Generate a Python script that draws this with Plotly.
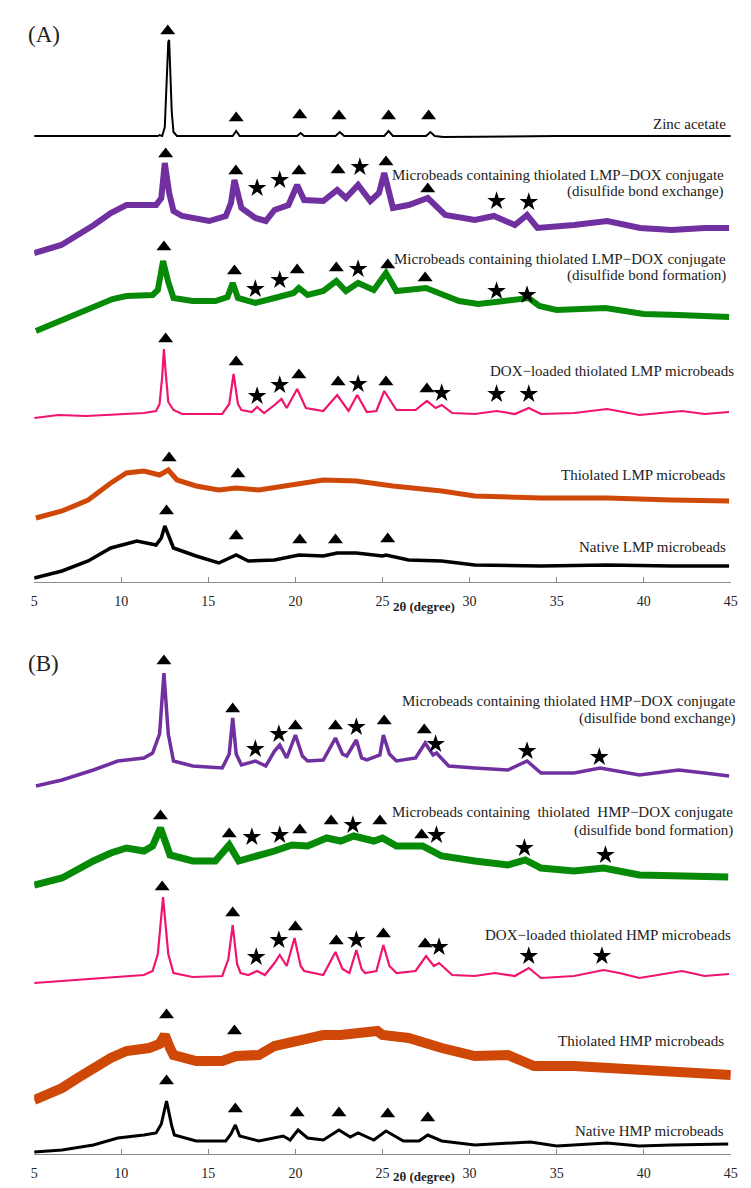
import plotly.graph_objects as go

# ---------------- Panel (A) data : 2theta (degree) vs intensity (a.u.) ----------------
zinc_x = [5.0, 12.1, 12.2, 12.35, 12.5, 12.6, 12.7, 12.75, 12.8, 12.9, 13.0, 13.2, 16.4, 16.6, 16.8,
          20.1, 20.3, 20.5, 22.3, 22.55, 22.8, 25.1, 25.35, 25.6, 27.5, 27.75, 28.0, 28.5, 35.0, 45.0]
zinc_y = [446, 446, 447, 446, 455, 500, 540, 542, 520, 470, 450, 446, 446, 451, 446,
          446, 449, 446, 446, 450, 446, 446, 451, 446, 446, 450, 446, 445, 446, 446]

lmp_exch_x = [5.0, 6.56, 8.43, 9.4, 10.3, 11.3, 12.0, 12.3, 12.5, 12.75, 13.0, 13.5, 15.05, 16.0, 16.3, 16.5,
              16.9, 17.7, 18.3, 18.8, 19.6, 20.1, 20.5, 21.6, 22.4, 22.9, 23.6, 24.3, 24.8, 25.1, 25.6,
              26.5, 27.6, 28.6, 30.3, 31.4, 32.6, 33.3, 33.9, 36.0, 37.9, 39.8, 41.6, 43.5, 44.9]
lmp_exch_y = [329, 337, 357, 369, 377, 377, 377, 384, 419, 389, 371, 366, 361, 366, 379, 402,
              374, 364, 361, 372, 377, 397, 382, 381, 392, 384, 397, 381, 389, 409, 374,
              377, 384, 367, 362, 366, 357, 367, 354, 357, 361, 354, 352, 354, 354]

lmp_form_x = [5.1, 6.5, 7.5, 8.5, 9.5, 10.3, 11.8, 12.1, 12.4, 12.7, 13.0, 14.1, 15.4, 16.1, 16.4, 16.7,
              17.7, 18.8, 19.9, 20.2, 20.7, 21.6, 22.35, 22.9, 23.6, 24.5, 25.2, 25.8, 27.5, 29.4,
              30.5, 31.5, 33.4, 34.0, 35.0, 37.8, 40.0, 42.0, 44.9]
lmp_form_y = [251, 261, 268, 276, 283, 286, 287, 292, 321, 300, 284, 281, 281, 285, 299, 284,
              279, 284, 289, 294, 287, 291, 301, 291, 299, 292, 309, 291, 294, 281,
              278, 280, 284, 276, 272, 274, 268, 267, 265]

lmp_dox_x = [5.0, 6.4, 8.0, 11.3, 12.0, 12.2, 12.35, 12.45, 12.55, 12.7, 13.0, 13.5, 15.8, 16.2, 16.45,
             16.7, 16.9, 17.5, 17.8, 18.2, 18.8, 19.2, 19.5, 20.1, 20.6, 21.6, 22.4, 23.05, 23.55,
             24.1, 24.65, 25.1, 25.8, 26.9, 27.55, 28.05, 28.4, 29.0, 30.3, 31.55, 32.6, 33.4,
             34.1, 36.0, 37.9, 39.75, 42.2, 43.5, 44.9]
lmp_dox_y = [164, 167, 166, 169, 171, 178, 205, 233, 210, 180, 172, 168, 168, 178, 208,
             178, 172, 170, 175, 169, 177, 183, 174, 193, 174, 171, 187, 171, 187,
             170, 171, 191, 172, 172, 181, 174, 177, 169, 168, 171, 168, 174,
             168, 169, 173, 167, 171, 168, 170]

lmp_thiol_x = [5.1, 6.6, 8.1, 9.4, 10.3, 11.3, 12.2, 12.7, 13.2, 14.3, 15.6, 16.6, 17.9, 19.7, 21.6,
               23.5, 25.0, 25.6, 28.4, 30.3, 34.1, 37.9, 41.6, 44.9]
lmp_thiol_y = [64, 71, 82, 99, 109, 111, 107, 112, 102, 96, 92, 94, 92, 97, 102,
               101, 97, 96, 91, 86, 84, 84, 82, 81]

lmp_native_x = [5.0, 6.6, 8.1, 9.4, 10.9, 12.0, 12.3, 12.5, 12.75, 13.0, 14.3, 15.6, 16.6, 17.3, 18.8,
                20.2, 21.6, 22.4, 23.5, 25.0, 25.2, 26.5, 28.4, 30.3, 34.1, 37.9, 41.6, 44.9]
lmp_native_y = [4, 11, 21, 34, 41, 37, 44, 56, 45, 34, 26, 19, 27, 21, 22,
                27, 26, 29, 29, 26, 27, 22, 21, 17, 16, 17, 16, 16]

# peak markers, panel A (triangles = zinc acetate reflections, stars = DOX reflections)
a_tri_x = [12.67, 16.6, 20.25, 22.5, 25.35, 27.65,
           12.55, 16.58, 20.2, 22.45, 25.2, 27.6,
           12.45, 16.5, 20.1, 22.35, 25.3, 27.45,
           12.55, 16.6, 20.2, 22.45, 25.2, 27.55,
           12.75, 16.7,
           12.6, 16.6, 20.25, 22.3, 25.3]
a_tri_y = [551, 464, 467, 466, 466, 466,
           428, 411, 411, 412, 420, 393,
           335, 311, 312, 314, 317, 304,
           243, 220, 207, 200, 200, 193,
           124, 108,
           71, 46, 42, 42, 43]
a_star_x = [17.8, 19.1, 23.7, 31.55, 33.4,
            17.7, 19.1, 23.6, 31.55, 33.3,
            17.8, 19.1, 23.6, 28.4, 31.55, 33.4]
a_star_y = [394, 402, 415, 381, 380,
            293, 302, 313, 291, 287,
            186, 197, 198, 189, 188, 188]

# ---------------- Panel (B) data ----------------
hmp_exch_x = [5.1, 6.6, 8.4, 9.8, 11.3, 11.8, 12.2, 12.45, 12.7, 13.0, 14.1, 15.8, 16.2, 16.4, 16.6, 16.9,
              17.7, 18.3, 18.8, 19.1, 19.5, 20.0, 20.4, 20.7, 21.6, 22.3, 22.7, 22.95, 23.5, 23.8,
              24.1, 24.85, 25.05, 25.4, 25.8, 26.9, 27.45, 27.9, 28.1, 28.8, 30.3, 32.2, 33.3,
              34.1, 36.0, 37.5, 39.75, 42.0, 43.5, 44.9]
hmp_exch_y = [368, 374, 384, 393, 396, 401, 420, 481, 420, 393, 388, 386, 400, 436, 400, 389,
              393, 388, 403, 409, 396, 419, 398, 393, 394, 416, 400, 398, 414, 396,
              394, 399, 419, 400, 393, 396, 411, 399, 401, 388, 386, 384, 393,
              381, 381, 386, 379, 384, 381, 378]

hmp_form_x = [5.0, 6.6, 8.4, 9.4, 10.3, 11.3, 11.8, 12.25, 12.8, 14.1, 15.4, 16.2, 16.75, 17.9, 18.8,
              19.8, 20.7, 21.8, 22.6, 23.35, 24.5, 25.0, 25.8, 27.3, 28.4, 30.3, 32.2, 33.2, 34.1,
              36.0, 37.7, 39.75, 41.6, 43.5, 44.85]
hmp_form_y = [269, 276, 293, 301, 306, 303, 308, 326, 299, 293, 293, 309, 293, 298, 303,
              309, 308, 316, 313, 318, 313, 316, 308, 308, 298, 293, 289, 294, 286,
              283, 286, 279, 278, 278, 277]

hmp_dox_x = [5.0, 7.5, 9.4, 11.3, 11.8, 12.1, 12.4, 12.7, 13.0, 14.1, 15.8, 16.15, 16.4, 16.65, 16.85,
             17.3, 17.8, 18.25, 18.8, 19.1, 19.5, 19.95, 20.3, 20.5, 21.6, 22.3, 22.7, 23.1, 23.5,
             23.8, 24.0, 24.65, 25.05, 25.4, 25.8, 26.9, 27.5, 27.95, 28.25, 29.0, 30.3, 31.45,
             32.6, 33.4, 34.1, 36.0, 37.7, 38.6, 39.75, 42.2, 43.5, 44.9]
hmp_dox_y = [171, 174, 177, 179, 183, 200, 257, 200, 181, 177, 178, 195, 229, 190, 181,
             179, 183, 179, 191, 199, 188, 216, 188, 183, 179, 202, 185, 181, 204,
             185, 181, 183, 209, 188, 181, 183, 198, 188, 191, 179, 178, 181,
             178, 186, 176, 178, 184, 181, 176, 183, 178, 180]

hmp_thiol_x = [5.0, 6.6, 7.5, 8.4, 9.4, 10.3, 11.6, 12.2, 12.5, 12.8, 13.0, 14.3, 15.8, 16.6, 17.9,
               18.8, 20.3, 21.6, 22.6, 23.7, 24.7, 25.0, 26.5, 28.4, 30.3, 32.2, 33.7, 36.0,
               37.9, 39.75, 41.6, 43.5, 45.0]
hmp_thiol_y = [54, 66, 76, 86, 96, 103, 106, 110, 119, 106, 99, 93, 93, 98, 99,
               108, 113, 119, 119, 121, 123, 119, 116, 106, 98, 99, 88, 88,
               86, 83, 83, 81, 79]

hmp_native_x = [5.0, 6.6, 8.4, 9.8, 11.3, 12.0, 12.3, 12.6, 12.9, 13.05, 14.3, 16.0, 16.3, 16.55, 16.8,
                17.9, 19.3, 19.7, 20.15, 20.7, 21.6, 22.5, 23.15, 23.6, 24.5, 25.2, 26.2, 27.1,
                27.6, 28.4, 30.3, 33.5, 35.0, 37.9, 39.75, 41.6, 44.85]
hmp_native_y = [2, 4, 9, 16, 19, 21, 30, 53, 28, 19, 13, 13, 20, 29, 18,
                13, 18, 14, 24, 16, 14, 24, 17, 21, 14, 23, 13, 13,
                19, 13, 9, 12, 8, 11, 8, 9, 10]

b_tri_x = [12.45, 16.4, 20.0, 22.3, 25.1, 27.4,
           12.25, 16.2, 20.25, 22.05, 24.85, 27.25,
           12.35, 16.4, 20.0, 22.35, 25.05, 27.45,
           12.6, 16.5,
           12.6, 16.55, 20.1, 22.5, 25.3, 27.6]
b_tri_y = [493, 445, 428, 428, 433, 424,
           338, 320, 324, 333, 333, 319,
           267, 241, 227, 213, 220, 210,
           139, 123,
           73, 45, 41, 41, 40, 36]
b_star_x = [17.7, 19.05, 23.5, 28.05, 33.3, 37.45,
            17.5, 19.1, 23.3, 28.1, 33.15, 37.8,
            17.75, 19.05, 23.5, 28.25, 33.4, 37.6]
b_star_y = [405, 420, 427, 410, 403, 397,
            317, 319, 329, 319, 306, 299,
            197, 214, 214, 207, 198, 198]

tick_vals = [5, 10, 15, 20, 25, 30, 35, 40, 45]

# ---------------- styling ----------------
W, H = 751, 1188
FONT = "Liberation Serif, Times New Roman, serif"
PURPLE, GREEN, PINK, ORANGE, BLACK = "#7030A0", "#078A07", "#F0146E", "#D04808", "#000000"

fig = go.Figure()

def add_line(x, y, color, width, axis):
    fig.add_trace(go.Scatter(x=x, y=y, mode="lines", line=dict(color=color, width=width),
                             xaxis="x" if axis == 1 else "x2", yaxis="y" if axis == 1 else "y2",
                             hoverinfo="skip", showlegend=False))

def add_marks(x, y, symbol, size, axis):
    fig.add_trace(go.Scatter(x=x, y=y, mode="markers",
                             marker=dict(symbol=symbol, size=size, color="black", line=dict(width=0)),
                             xaxis="x" if axis == 1 else "x2", yaxis="y" if axis == 1 else "y2",
                             cliponaxis=False, hoverinfo="skip", showlegend=False))

add_line(zinc_x, zinc_y, BLACK, 2, 1)
add_line(lmp_exch_x, lmp_exch_y, PURPLE, 6, 1)
add_line(lmp_form_x, lmp_form_y, GREEN, 6, 1)
add_line(lmp_dox_x, lmp_dox_y, PINK, 2.2, 1)
add_line(lmp_thiol_x, lmp_thiol_y, ORANGE, 5, 1)
add_line(lmp_native_x, lmp_native_y, BLACK, 3.5, 1)
add_marks(a_tri_x, a_tri_y, "triangle-up", 13, 1)
add_marks(a_star_x, a_star_y, "star", 14, 1)

add_line(hmp_exch_x, hmp_exch_y, PURPLE, 3.5, 2)
add_line(hmp_form_x, hmp_form_y, GREEN, 7, 2)
add_line(hmp_dox_x, hmp_dox_y, PINK, 2.2, 2)
add_line(hmp_thiol_x, hmp_thiol_y, ORANGE, 10, 2)
add_line(hmp_native_x, hmp_native_y, BLACK, 3, 2)
add_marks(b_tri_x, b_tri_y, "triangle-up", 13, 2)
add_marks(b_star_x, b_star_y, "star", 14, 2)

xdom = [22.5 / W, 729.5 / W]
xaxis_common = dict(domain=xdom, range=[5, 45], tickvals=tick_vals, showline=True, linecolor="#8a8a8a",
                    linewidth=1.2, ticks="inside", ticklen=5, tickcolor="#8a8a8a", showgrid=False,
                    zeroline=False, tickfont=dict(family=FONT, size=14, color="#222"),
                    ticklabelstandoff=6)

fig.update_layout(
    width=W, height=H, margin=dict(l=0, r=0, t=0, b=0),
    paper_bgcolor="white", plot_bgcolor="white",
    xaxis=dict(anchor="y", **xaxis_common),
    yaxis=dict(domain=[1 - 574 / H, 1.0], range=[0, 574], visible=False),
    xaxis2=dict(anchor="y2", **xaxis_common),
    yaxis2=dict(domain=[1 - 1146 / H, 1 - 600 / H], range=[0, 546], visible=False),
)

def label(text, xr, ypx, size=15, anchor="right", bold=False):
    fig.add_annotation(text=("<b>%s</b>" % text) if bold else text, x=xr / W, y=1 - ypx / H,
                       xref="paper", yref="paper", xanchor=anchor, yanchor="middle", showarrow=False,
                       font=dict(family=FONT, size=size, color="#222"))

label("(A)", 14, 27, size=23, anchor="left")
label("Zinc acetate", 727, 116)
label("Microbeads containing thiolated LMP\u2212DOX conjugate", 725, 167)
label("(disulfide bond exchange)", 725, 184)
label("Microbeads containing thiolated LMP\u2212DOX conjugate", 727, 251)
label("(disulfide bond formation)", 727, 268)
label("DOX\u2212loaded thiolated LMP microbeads", 735, 363)
label("Thiolated LMP microbeads", 727, 467)
label("Native LMP microbeads", 727, 539)
label("2\u03b8 (degree)", 418, 598, size=13, anchor="center", bold=True)

label("(B)", 14, 655, size=23, anchor="left")
label("Microbeads containing thiolated HMP\u2212DOX conjugate", 737, 693)
label("(disulfide bond exchange)", 737, 710)
label("Microbeads containing&nbsp; thiolated&nbsp; HMP\u2212DOX conjugate", 734, 804)
label("(disulfide bond formation)", 734, 822)
label("DOX\u2212loaded thiolated HMP microbeads", 732, 927)
label("Thiolated HMP microbeads", 725, 1033)
label("Native HMP microbeads", 725, 1123)
label("2\u03b8 (degree)", 418, 1168, size=13, anchor="center", bold=True)

fig.write_html("out.html")
